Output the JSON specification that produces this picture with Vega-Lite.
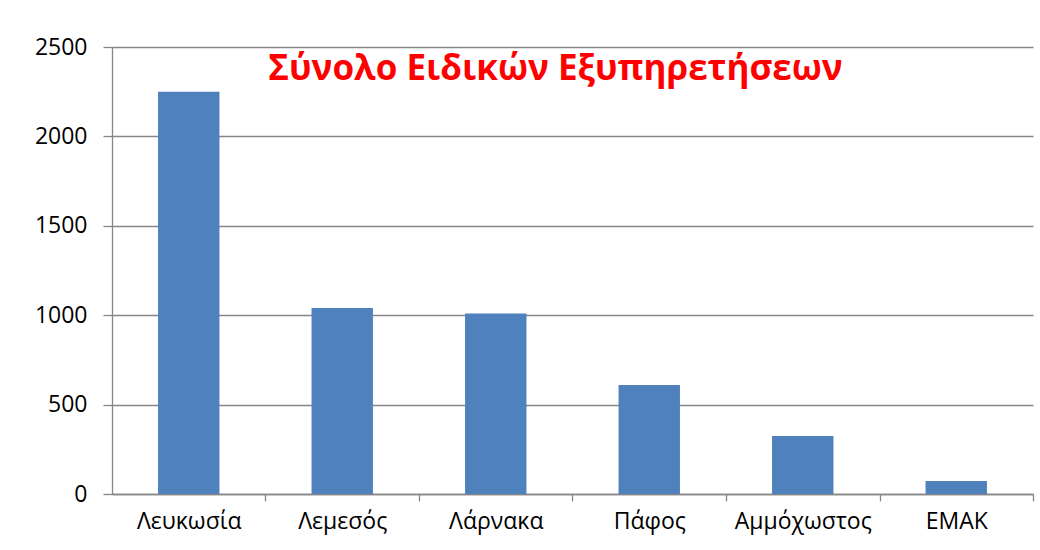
{
  "$schema": "https://vega.github.io/schema/vega-lite/v6.json",
  "autosize": "none",
  "padding": {"left": 112, "top": 47, "right": 7, "bottom": 56},
  "width": 921,
  "height": 447,
  "background": "white",
  "title": {
    "text": "Σύνολο Ειδικών Εξυπηρετήσεων",
    "color": "#ff0000",
    "font": "Open Sans",
    "fontWeight": "bold",
    "fontSize": 35,
    "anchor": "middle",
    "orient": "top",
    "baseline": "alphabetic",
    "offset": -79,
    "dx": -17
  },
  "data": {
    "values": [
      {"region": "Λευκωσία", "value": 2250},
      {"region": "Λεμεσός", "value": 1040},
      {"region": "Λάρνακα", "value": 1010},
      {"region": "Πάφος", "value": 609},
      {"region": "Αμμόχωστος", "value": 325},
      {"region": "ΕΜΑΚ", "value": 73}
    ]
  },
  "mark": {"type": "bar", "color": "#4f81bd"},
  "encoding": {
    "x": {
      "field": "region",
      "type": "nominal",
      "sort": null,
      "scale": {"paddingInner": 0.6, "paddingOuter": 0.3},
      "axis": {
        "title": null,
        "labelAngle": 0,
        "labelFont": "Open Sans",
        "labelFontSize": 23,
        "labelColor": "#000000",
        "labelPadding": 9,
        "tickOffset": 76.75,
        "labelOffset": -76.75,
        "tickSize": 7,
        "tickColor": "#868686",
        "tickWidth": 1.3,
        "domainColor": "#868686",
        "domainWidth": 1.3,
        "grid": false
      }
    },
    "y": {
      "field": "value",
      "type": "quantitative",
      "scale": {"domain": [0, 2500]},
      "axis": {
        "title": null,
        "values": [0, 500, 1000, 1500, 2000, 2500],
        "format": "d",
        "labelFont": "Open Sans",
        "labelFontSize": 23,
        "labelColor": "#000000",
        "labelPadding": 16,
        "tickSize": 9,
        "tickColor": "#868686",
        "tickWidth": 1.3,
        "domainColor": "#868686",
        "domainWidth": 1.3,
        "gridColor": "#868686",
        "gridWidth": 1.3
      }
    }
  },
  "config": {"view": {"stroke": null}}
}
